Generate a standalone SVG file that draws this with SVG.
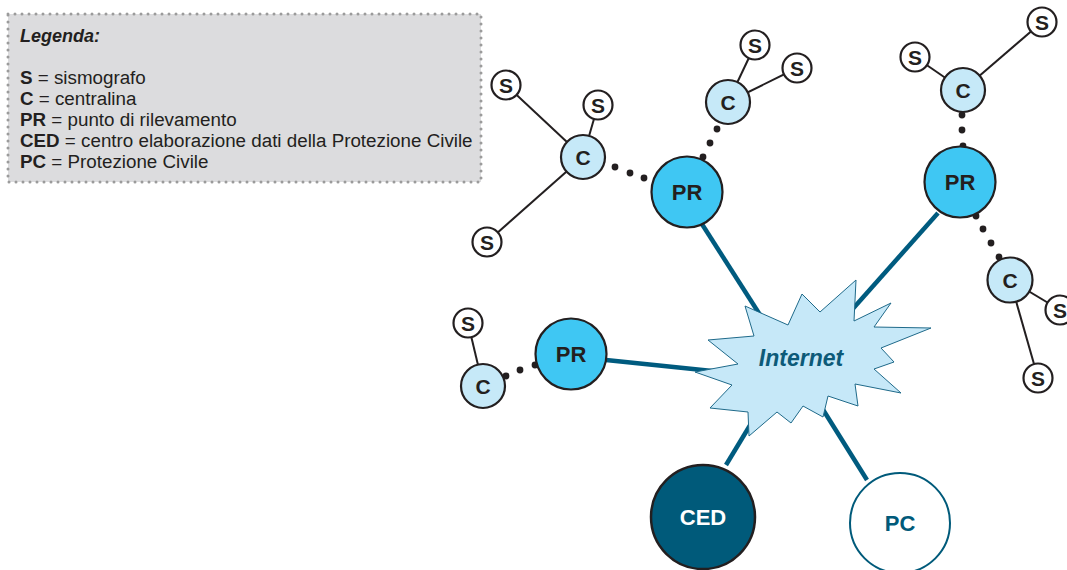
<svg xmlns="http://www.w3.org/2000/svg" width="1067" height="570" viewBox="0 0 1067 570">
<style>
.lg{font-family:"Liberation Sans",Arial,sans-serif;font-size:18.8px;fill:#231f20}
.b{font-weight:bold}
.thin{stroke:#231f20;stroke-width:2;fill:none}
.thick{stroke:#005b7f;stroke-width:4.5;fill:none}
.dot{fill:#231f20}
.s{fill:#fff;stroke:#231f20;stroke-width:2.2}
.c{fill:#c6e9f8;stroke:#231f20;stroke-width:2.2}
.pr{fill:#3fc7f3;stroke:#231f20;stroke-width:2.2}
.t{font-family:"Liberation Sans",Arial,sans-serif;font-weight:bold;fill:#231f20;text-anchor:middle}
.ts{font-size:21px}
.tb{font-size:22px}
</style>
<rect id="legend" x="8" y="14" width="473" height="168" fill="#dcdcde" stroke="#9b9b9b" stroke-width="3" stroke-dasharray="0 7" stroke-linecap="round"/>
<g id="legend-text">
<text class="lg b" x="20" y="42" style="font-style:italic;font-size:18px">Legenda:</text>
<text class="lg" x="20" y="84"><tspan class="b">S</tspan> = sismografo</text>
<text class="lg" x="20" y="105"><tspan class="b">C</tspan> = centralina</text>
<text class="lg" x="20" y="126"><tspan class="b">PR</tspan> = punto di rilevamento</text>
<text class="lg" x="20" y="147"><tspan class="b">CED</tspan> = centro elaborazione dati della Protezione Civile</text>
<text class="lg" x="20" y="168"><tspan class="b">PC</tspan> = Protezione Civile</text>
</g>
<g id="connectors">
<line class="thin" x1="506" y1="85" x2="583" y2="157"/>
<line class="thin" x1="598" y1="105" x2="583" y2="157"/>
<line class="thin" x1="487" y1="242" x2="583" y2="157"/>
<line class="thin" x1="755" y1="45" x2="728" y2="102"/>
<line class="thin" x1="797" y1="68" x2="728" y2="102"/>
<line class="thin" x1="1042" y1="22" x2="963" y2="90"/>
<line class="thin" x1="915" y1="57" x2="963" y2="90"/>
<line class="thin" x1="1060" y1="310" x2="1010" y2="280"/>
<line class="thin" x1="1038" y1="378" x2="1010" y2="280"/>
<line class="thin" x1="468" y1="323" x2="483" y2="386"/>
<line class="thick" x1="700" y1="221" x2="762" y2="318"/>
<line class="thick" x1="938" y1="213" x2="850" y2="312"/>
<line class="thick" x1="606" y1="360" x2="722" y2="372"/>
<line class="thick" x1="726" y1="465" x2="752" y2="422"/>
<line class="thick" x1="867" y1="480" x2="822" y2="408"/>
<circle class="dot" cx="615" cy="167" r="3.4"/>
<circle class="dot" cx="630" cy="173" r="3.4"/>
<circle class="dot" cx="644" cy="178" r="3.4"/>
<circle class="dot" cx="717" cy="129" r="3.4"/>
<circle class="dot" cx="710" cy="143" r="3.4"/>
<circle class="dot" cx="703" cy="157" r="3.4"/>
<circle class="dot" cx="962" cy="115" r="3.4"/>
<circle class="dot" cx="962" cy="130" r="3.4"/>
<circle class="dot" cx="963" cy="146" r="3.4"/>
<circle class="dot" cx="976" cy="216" r="3.4"/>
<circle class="dot" cx="983" cy="229" r="3.4"/>
<circle class="dot" cx="991" cy="243" r="3.4"/>
<circle class="dot" cx="999" cy="257" r="3.4"/>
<circle class="dot" cx="506" cy="376" r="3.4"/>
<circle class="dot" cx="520" cy="370" r="3.4"/>
<circle class="dot" cx="535" cy="365" r="3.4"/>
</g>
<g id="internet">
<polygon points="745,306 788,325 802,294 820,312 856,280 854,321 891,303 874,327 931,328 881,348 894,362 874,369 901,393 855,384 858,406 828,396 823,417 803,406 791,423 777,412 749,436 748,412 710,408 732,385 695,372 738,364 708,340 754,336" fill="#c6e8f8" stroke="#1f6a8a" stroke-width="1"/>
<text x="801" y="366" font-family="Liberation Sans, Arial, sans-serif" font-weight="bold" font-style="italic" font-size="23" fill="#0d5a78" text-anchor="middle">Internet</text>
</g>
<g id="C1"><circle class="c" cx="583" cy="157" r="22"/><text class="t ts" x="583" y="164.5">C</text></g>
<g id="S1"><circle class="s" cx="506" cy="85" r="14.5"/><text class="t ts" x="506" y="92.5">S</text></g>
<g id="S2"><circle class="s" cx="598" cy="105" r="14.5"/><text class="t ts" x="598" y="112.5">S</text></g>
<g id="S3"><circle class="s" cx="487" cy="242" r="14.5"/><text class="t ts" x="487" y="249.5">S</text></g>
<g id="PR1"><circle class="pr" cx="687" cy="192" r="35.5"/><text class="t tb" x="687" y="200">PR</text></g>
<g id="C2"><circle class="c" cx="728" cy="102" r="22"/><text class="t ts" x="728" y="109.5">C</text></g>
<g id="S4"><circle class="s" cx="755" cy="45" r="14.5"/><text class="t ts" x="755" y="52.5">S</text></g>
<g id="S5"><circle class="s" cx="797" cy="68" r="14.5"/><text class="t ts" x="797" y="75.5">S</text></g>
<g id="C3"><circle class="c" cx="963" cy="90" r="22"/><text class="t ts" x="963" y="97.5">C</text></g>
<g id="S6"><circle class="s" cx="1042" cy="22" r="14.5"/><text class="t ts" x="1042" y="29.5">S</text></g>
<g id="S7"><circle class="s" cx="915" cy="57" r="14.5"/><text class="t ts" x="915" y="64.5">S</text></g>
<g id="PR2"><circle class="pr" cx="960" cy="182" r="35.5"/><text class="t tb" x="960" y="190">PR</text></g>
<g id="C4"><circle class="c" cx="1010" cy="280" r="22.5"/><text class="t ts" x="1010" y="287.5">C</text></g>
<g id="S8"><circle class="s" cx="1060" cy="310" r="14.5"/><text class="t ts" x="1060" y="317.5">S</text></g>
<g id="S9"><circle class="s" cx="1038" cy="378" r="14.5"/><text class="t ts" x="1038" y="385.5">S</text></g>
<g id="S10"><circle class="s" cx="468" cy="323" r="14.5"/><text class="t ts" x="468" y="330.5">S</text></g>
<g id="C5"><circle class="c" cx="483" cy="386" r="22"/><text class="t ts" x="483" y="393.5">C</text></g>
<g id="PR3"><circle class="pr" cx="571" cy="354" r="35.5"/><text class="t tb" x="571" y="362">PR</text></g>
<g id="CED"><circle cx="703" cy="517" r="52" fill="#005a7a" stroke="#231f20" stroke-width="2.5"/><text class="t tb" x="703" y="525" style="fill:#fff">CED</text></g>
<g id="PC"><circle cx="900" cy="523" r="50" fill="#fff" stroke="#005a7a" stroke-width="2"/><text class="t tb" x="900" y="531" style="fill:#005a7a">PC</text></g>
</svg>
